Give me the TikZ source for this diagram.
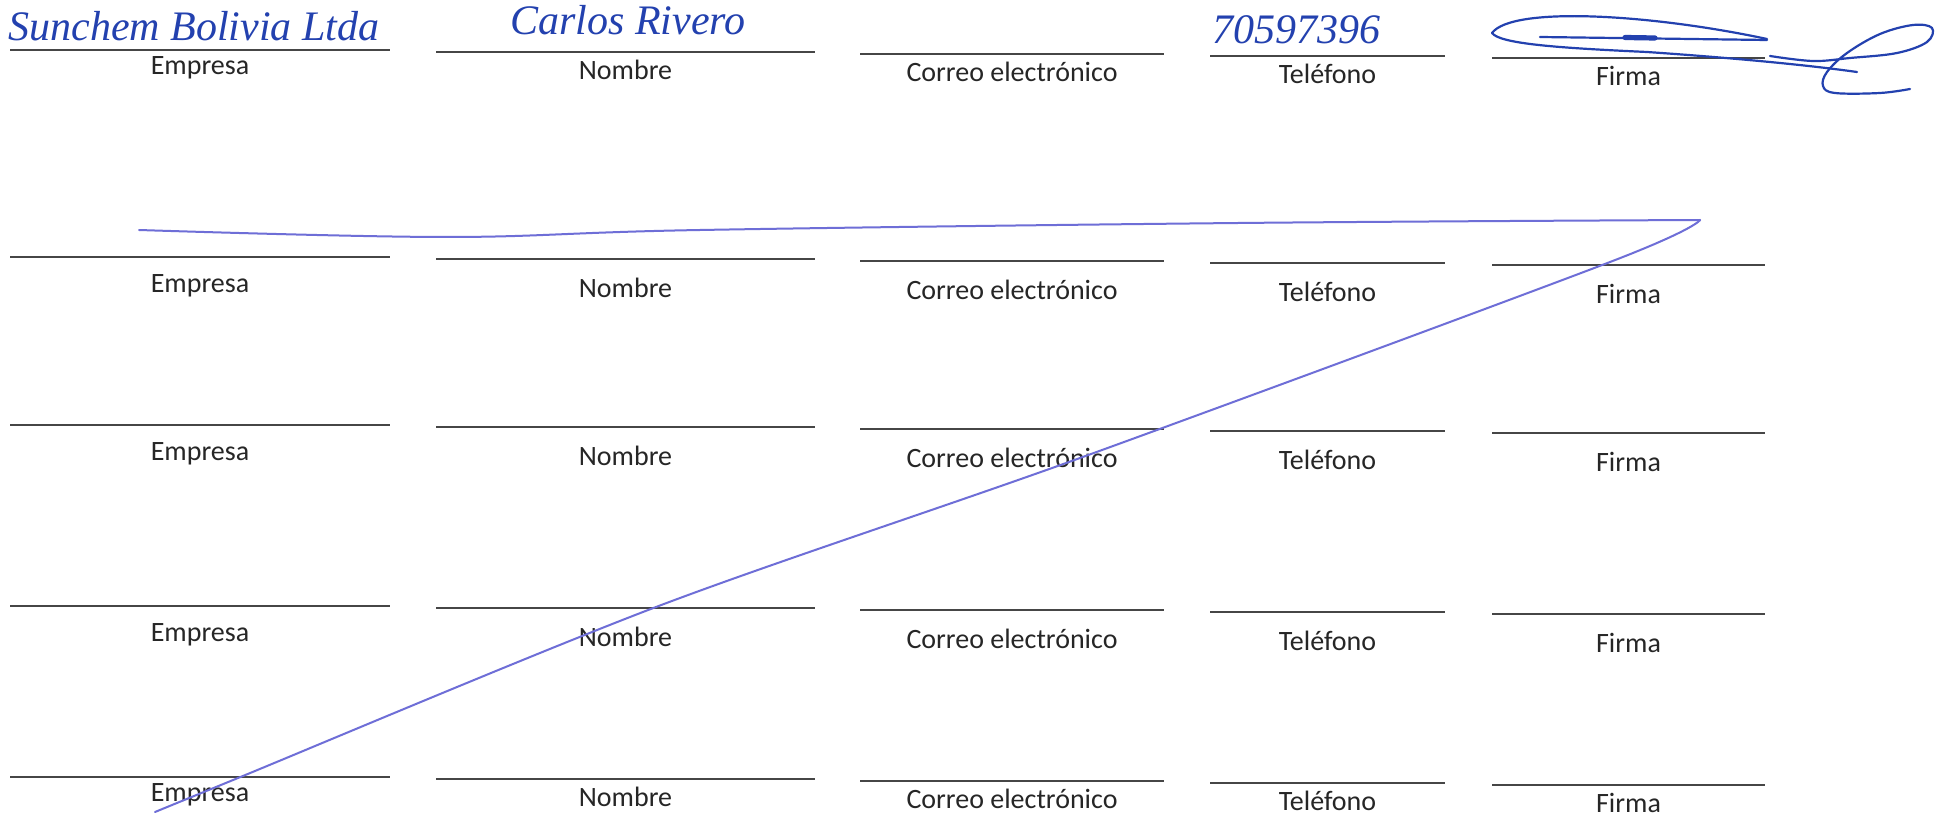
\documentclass[tikz,border=0pt]{standalone}
\usepackage{fontspec}
\setmainfont{Carlito}
\newfontfamily\penfont{Liberation Serif}
\usetikzlibrary{calc}

\definecolor{ink}{RGB}{35,65,175}
\definecolor{strike}{RGB}{110,110,215}
\definecolor{rule}{RGB}{70,70,70}

\begin{document}
\begin{tikzpicture}[
    x=0.5pt, y=-0.5pt,
    rulel/.style={draw=rule, line width=1pt},
    lab/.style={font=\fontsize{14}{16}\selectfont, text=black!85, inner sep=0pt},
    pen/.style={font=\penfont\itshape\fontsize{21}{24}\selectfont, text=ink,
      anchor=base west, inner sep=0pt},
    inkl/.style={draw=ink, line width=1.1pt, line cap=round, line join=round},
    strikel/.style={draw=strike, line width=1pt, line cap=round, line join=round},
  ]
  \useasboundingbox[fill=white] (0,0) rectangle (1942,818);

  % form rows
  \foreach \ry/\off [count=\r] in {50/18,257/29,425/29,606/29,777/18} {
    \foreach \cn/\xa/\xb/\dy/\cl in {emp/10/390/0/Empresa, nom/436/815/2/Nombre,
        cor/860/1164/4/Correo electrónico, tel/1210/1445/6/Teléfono,
        fir/1492/1765/8/Firma} {
      \coordinate (\cn\r a) at (\xa,\ry+\dy);
      \coordinate (\cn\r b) at (\xb,\ry+\dy);
      \draw[rulel] (\cn\r a) -- (\cn\r b);
      \node[lab] (\cn\r) at ($(\cn\r a)!0.5!(\cn\r b)+(0,\off)$) {\cl};
    }
  }

  % handwritten entries
  \node[pen] (company) at (8,41) {Sunchem Bolivia Ltda};
  \node[pen] (name) at (510,35) {Carlos Rivero};
  \node[pen] (phone) at (1212,44) {70597396};

  % signature
  \draw[inkl] (1492,33) .. controls (1512,6) and (1650,14) .. (1767,39);
  \draw[inkl] (1540,37) -- (1767,40);
  \draw[ink, line width=2.6pt, line cap=round] (1625,37.5) -- (1655,38);
  \draw[inkl] (1492,33) .. controls (1500,44) and (1560,48) .. (1647,52)
    .. controls (1720,57) and (1800,64) .. (1857,72);
  \draw[inkl] plot[smooth, tension=0.6] coordinates {
    (1770,56) (1813,61) (1850,58) (1897,53) (1927,42) (1932,28) (1913,25)
    (1880,34) (1847,53) (1827,72) (1823,86) (1835,93) (1880,93) (1910,89)};

  % strike-through
  \draw[strikel] plot[smooth, tension=0.6] coordinates {
    (139,230) (446,237) (700,230) (1238,223) (1700,220)};
  \draw[strikel] plot[smooth, tension=0.5] coordinates {
    (1700,220) (1610,262) (1080,458) (656,607) (238,778) (155,812)};
\end{tikzpicture}
\end{document}
